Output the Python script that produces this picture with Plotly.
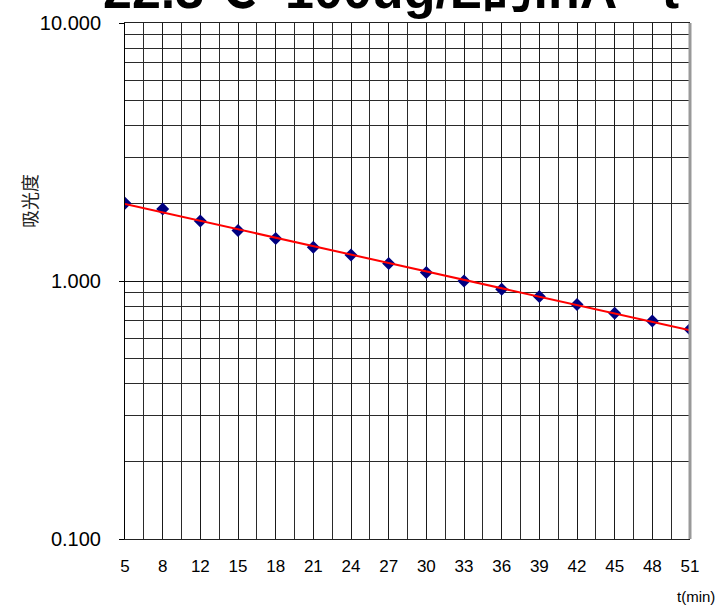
import numpy as np
import plotly.graph_objects as go

# ---- data ----
categories = ["5", "8", "12", "15", "18", "21", "24", "27", "30", "33", "36", "39", "42", "45", "48", "51"]
absorbance = [2.00, 1.90, 1.71, 1.57, 1.46, 1.35, 1.26, 1.17, 1.08, 1.00, 0.93, 0.87, 0.81, 0.75, 0.70, 0.65]
y_tick_vals = [0.1, 1, 10]
y_tick_text = ["0.100", "1.000", "10.000"]
y_minor_vals = [0.2, 0.3, 0.4, 0.5, 0.6, 0.7, 0.8, 0.9, 2, 3, 4, 5, 6, 7, 8, 9]
title_text = "22.3℃  100ug/L的lnA - t"
y_title = "吸光度"
x_title = "t(min)"

idx = np.arange(len(categories))
# exponential trendline (least squares on log values, as a spreadsheet trendline)
b, a = np.polyfit(idx, np.log(absorbance), 1)
trend = np.exp(a + b * idx)

fig = go.Figure()
fig.add_trace(go.Scatter(
    x=idx, y=absorbance, mode="markers",
    marker=dict(symbol="diamond", size=10, color="#000080", line=dict(width=0)),
    showlegend=False, hoverinfo="skip"))
fig.add_trace(go.Scatter(
    x=idx, y=trend, mode="lines",
    line=dict(color="#ff0000", width=2),
    showlegend=False, hoverinfo="skip"))

fig.update_layout(
    width=728, height=607,
    margin=dict(l=125, r=38, t=17, b=68),
    paper_bgcolor="white", plot_bgcolor="white",
    font=dict(family="Liberation Sans, Arial, Noto Sans CJK SC", color="black"),
    showlegend=False,
)

fig.update_xaxes(
    range=[0, len(categories) - 1],
    tickmode="array", tickvals=list(idx), ticktext=categories,
    tickfont=dict(size=17, color="black"),
    ticks="", ticklabelstandoff=12,
    showgrid=True, gridcolor="#1a1a1a", gridwidth=1,
    minor=dict(tickmode="array", tickvals=[i + 0.5 for i in idx[:-1]],
               showgrid=True, gridcolor="#2a2a2a", gridwidth=1, ticks=""),
    showline=True, linecolor="#222222", linewidth=1, mirror=True,
    zeroline=False,
)
fig.update_yaxes(
    type="log", range=[-1, 1],
    tickmode="array", tickvals=y_tick_vals, ticktext=y_tick_text,
    tickfont=dict(size=20, color="black"),
    ticks="outside", ticklen=5, tickcolor="black", ticklabelstandoff=14,
    showgrid=True, gridcolor="#111111", gridwidth=1,
    minor=dict(tickmode="array", tickvals=y_minor_vals,
               showgrid=True, gridcolor="#2a2a2a", gridwidth=1, ticks=""),
    showline=True, linecolor="black", linewidth=1,
    zeroline=False,
)

# right border (gray)
fig.add_shape(type="line", xref="paper", yref="paper", x0=1, x1=1, y0=0, y1=1,
              line=dict(color="#999999", width=3))

# title (partly cut off at the top, as in the reference)
fig.add_annotation(text="<b>" + title_text + "</b>", xref="paper", yref="paper",
                   x=0.47, y=1.003, xanchor="center", yanchor="bottom",
                   showarrow=False,
                   font=dict(size=52, color="black",
                             family="Liberation Sans, Arial, Noto Sans CJK SC"))

# y-axis title
fig.add_annotation(text=y_title, xref="paper", yref="paper",
                   x=-0.17, y=0.655, xanchor="center", yanchor="middle",
                   textangle=-90, showarrow=False,
                   font=dict(size=18, color="#222222", family="Noto Sans CJK SC"))
# x-axis title
fig.add_annotation(text=x_title, xref="paper", yref="paper",
                   x=1.0115, y=-0.1105, xanchor="center", yanchor="middle",
                   showarrow=False,
                   font=dict(size=15, color="black"))

fig.write_html("out.html", config={"displayModeBar": False},
               post_script="document.body.style.margin='0';")
